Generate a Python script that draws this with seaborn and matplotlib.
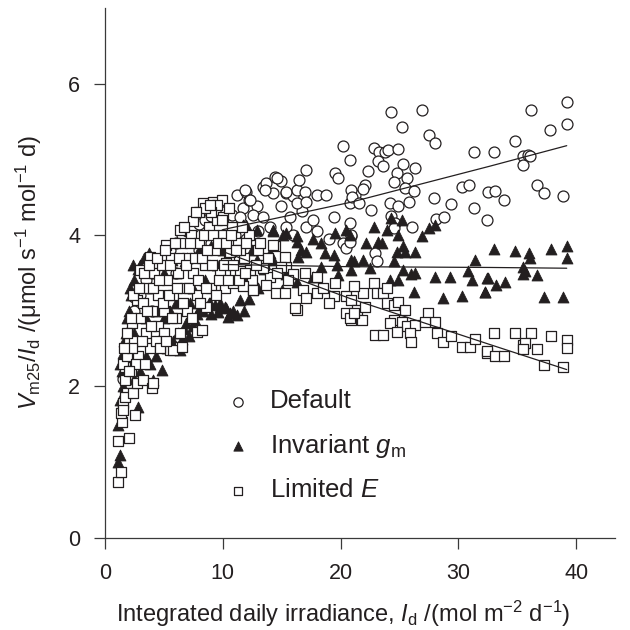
import numpy as np
import pandas as pd
import matplotlib
matplotlib.use("Agg")
import matplotlib.pyplot as plt
import seaborn as sns

# ---------------- data ----------------
default_x = [1.5, 2.0, 2.5, 3.0, 3.5, 4.0, 4.5, 5.0, 5.5, 6.0, 6.5, 7.0, 7.5, 8.0, 8.5, 9.0, 9.5,
             2.5, 4.0, 6.0, 8.0, 9.0, 10.0, 10.5, 10.3, 10.8, 11.2, 11.7, 12.0, 12.2, 12.9, 13.4,
             13.7, 14.3, 14.4, 14.9, 15.4, 16.0, 11.5, 12.6, 13.4, 14.9, 15.7, 16.7, 17.1, 15.4,
             14.6, 13.6, 11.9, 12.3, 15.4, 16.3, 17.0, 18.0, 18.8, 16.3, 17.1, 17.7, 19.4, 20.8,
             21.2, 17.1, 16.5, 19.5, 19.8, 20.2, 20.8, 20.2, 20.5, 20.9,
             11.0, 12.0, 13.0, 14.0, 16.0, 18.0, 19.0,
             24.3, 26.9, 25.2, 27.5, 28.0, 22.8, 23.3, 23.8, 24.0, 23.2, 23.6, 24.9, 25.3, 26.3,
             24.8, 25.6, 22.3, 22.1, 21.9, 24.5, 25.5, 26.2, 20.9, 21.0, 21.6, 22.6, 24.2, 24.9,
             25.8, 27.9, 29.4, 30.3, 30.9, 31.3, 31.3, 24.3, 24.6, 24.5, 26.1, 28.1, 28.8, 20.8,
             20.9, 20.8, 22.9, 23.1,
             36.2, 39.2, 39.2, 37.8, 34.8, 33.0, 35.5, 35.9, 36.1, 35.5, 32.5, 33.1, 33.9, 36.7,
             37.3, 38.9, 32.4]
default_y = [2.1, 2.6, 3.0, 3.2, 3.4, 3.5, 3.6, 3.7, 3.8, 3.9, 4.0, 4.05, 4.1, 4.15, 4.2, 4.25, 4.3,
             3.18, 3.0, 3.5, 3.8, 3.9, 4.0, 4.29, 4.31, 4.27, 4.53, 4.35, 4.57, 4.46, 4.38, 4.64,
             4.68, 4.55, 4.77, 4.71, 4.55, 4.51, 4.24, 4.27, 4.24, 4.38, 4.24, 4.31, 4.11, 4.11,
             4.75, 4.60, 4.60, 4.46, 4.57, 4.60, 4.57, 4.53, 4.53, 4.42, 4.44, 4.20, 4.24, 4.42,
             4.53, 4.86, 4.73, 4.82, 4.75, 5.17, 4.99, 3.89, 3.83, 3.98,
             4.0, 3.95, 4.05, 4.1, 4.0, 4.05, 3.95,
             5.63, 5.65, 5.43, 5.32, 5.22, 5.15, 5.09, 5.10, 5.12, 4.98, 4.91, 5.13, 4.94, 4.88,
             4.82, 4.75, 4.84, 4.66, 4.61, 4.70, 4.62, 4.58, 4.60, 4.50, 4.42, 4.33, 4.42, 4.38,
             4.43, 4.49, 4.41, 4.64, 4.66, 5.10, 4.35, 4.25, 4.16, 4.09, 4.10, 4.21, 4.24, 4.16,
             4.00, 3.91, 3.76, 3.65,
             5.65, 5.76, 5.47, 5.39, 5.24, 5.10, 5.05, 5.06, 5.05, 4.93, 4.57, 4.58, 4.46, 4.66,
             4.56, 4.52, 4.20]

invariant_x = [1.13, 1.27, 1.13, 1.27, 2.83, 1.3, 1.55, 1.84, 1.5, 1.8, 2.0, 2.2, 2.5, 2.8, 3.0, 3.3,
               3.7, 4.1, 4.8, 3.5, 3.0, 2.5, 4.5, 5.0, 5.5, 6.0, 5.7, 6.8, 6.4, 6.5, 6.9, 7.6, 7.5,
               7.1, 7.2, 8.1, 8.9, 9.8, 10.6, 11.2, 8.8, 9.3, 10.2, 10.9, 9.8, 10.3, 11.5, 4.0, 5.0,
               6.0, 7.0, 8.0, 9.0, 10.0, 8.5, 9.5, 7.5, 4.5, 3.5, 2.5,
               3.2, 3.8, 4.3, 5.3, 5.8, 6.2, 6.7, 7.3, 7.8, 8.3, 9.0, 9.6, 10.4, 11.8, 12.2,
               1.6, 1.9, 2.1, 2.4, 1.4,
               11.7, 12.9, 14.3, 15.4, 16.3, 12.0, 14.3, 15.1, 16.3, 17.7, 18.3, 19.5, 20.5, 20.8,
               16.6, 16.4, 17.1, 18.7, 19.4, 20.9, 18.3, 19.7, 20.9, 19.8, 14.0, 14.3, 12.9, 16.3,
               17.7, 15.4, 15.0, 11.0, 12.0, 13.0, 12.5, 11.5, 13.5,
               22.8, 23.9, 24.3, 25.2, 22.2, 23.2, 23.5, 24.9, 24.8, 25.3, 25.5, 26.3, 26.9, 27.5,
               28.0, 21.1, 21.9, 22.5, 24.5, 25.3, 26.0, 26.3, 24.2, 24.9, 28.0, 29.3, 31.4, 30.8,
               31.2, 32.4, 26.2, 28.7, 30.3, 32.3,
               33.0, 34.8, 36.0, 36.1, 37.9, 39.2, 39.2, 35.5, 35.7, 35.5, 36.7, 32.5, 33.2, 34.0,
               32.3, 37.3, 38.9]
invariant_y = [1.00, 1.09, 1.49, 1.82, 1.73, 2.30, 2.44, 2.48, 2.0, 2.7, 3.0, 3.2, 3.4, 3.55, 3.6, 3.7,
               3.76, 2.08, 2.22, 2.4, 2.2, 2.1, 2.6, 2.9, 3.0, 3.1, 3.67, 3.65, 2.48, 2.63, 2.83, 2.88,
               2.79, 2.66, 3.10, 3.05, 3.10, 3.05, 2.97, 2.94, 3.10, 3.08, 3.05, 2.99, 3.10, 3.03,
               3.14, 3.3, 3.5, 3.5, 3.7, 3.8, 3.85, 3.8, 3.4, 3.6, 3.3, 3.0, 2.9, 2.7,
               2.1, 2.3, 2.4, 2.5, 2.6, 2.7, 2.75, 2.9, 2.95, 3.0, 2.95, 2.98, 2.92, 3.0, 3.15,
               2.6, 2.9, 3.3, 3.6, 2.2,
               4.13, 4.07, 4.05, 4.02, 3.98, 4.13, 4.07, 4.00, 3.91, 3.94, 3.89, 4.02, 4.07, 4.00,
               3.80, 3.71, 3.78, 3.76, 3.74, 3.67, 3.58, 3.60, 3.54, 3.47, 3.76, 3.67, 3.67, 3.38,
               3.45, 3.49, 3.27, 3.5, 3.4, 3.3, 3.8, 3.9, 3.55,
               4.11, 4.07, 4.22, 4.20, 3.89, 3.91, 3.89, 4.00, 3.78, 3.85, 3.78, 3.78, 3.98, 4.09,
               4.13, 3.65, 3.67, 3.56, 3.65, 3.54, 3.49, 3.50, 3.41, 3.41, 3.45, 3.45, 3.67, 3.52,
               3.41, 3.43, 3.25, 3.16, 3.19, 3.25,
               3.81, 3.79, 3.76, 3.69, 3.81, 3.85, 3.69, 3.58, 3.52, 3.49, 3.47, 3.43, 3.34, 3.38,
               3.25, 3.18, 3.18]

limited_x = [1.07, 1.36, 1.13, 2.04, 1.41, 1.36, 1.55, 2.55, 1.84, 1.55, 1.7, 2.4, 2.7, 3.25, 4.0,
             4.1, 1.7, 1.7, 2.0, 2.3, 2.7, 3.0, 3.8, 5.2, 6.4, 7.5, 8.3, 9.2, 9.9, 7.8, 6.4, 5.5,
             5.8, 6.5, 8.2, 8.6,
             1.5, 1.9, 2.2, 2.5, 2.8, 3.0, 3.2, 3.5, 3.5, 3.8, 4.0, 4.2, 4.5, 4.5, 4.8, 5.0, 5.0,
             5.3, 5.6, 5.8, 6.0, 6.2, 6.5, 6.8, 7.0, 7.0, 7.3, 7.5, 7.8, 8.0, 8.0, 8.5, 8.8, 9.0,
             9.3, 9.5, 9.8, 10.0, 10.0, 10.2, 10.5, 10.8, 11.0, 11.3, 11.8, 12.2, 12.5, 13.0, 13.5,
             14.0, 12.6, 14.4, 15.4, 16.3, 14.3, 15.3, 10.6, 11.5, 10.3, 11.5, 12.3, 13.4, 14.9,
             16.0, 10.9, 11.7, 12.6, 13.7, 14.5, 15.3, 16.8, 18.0, 18.0, 19.5, 19.4, 20.5, 20.5,
             20.9, 16.1, 17.1, 17.0, 18.5, 19.0, 15.5, 9.5, 10.5, 9.0, 8.5,
             2.2, 2.4, 2.6, 2.9, 3.1, 3.3, 3.4, 3.6, 3.7, 3.9, 4.1, 4.3, 4.4, 4.6, 4.7, 4.9, 5.1,
             5.2, 5.4, 5.5, 5.7, 5.9, 6.1, 6.3, 6.4, 6.6, 6.7, 6.9, 7.1, 7.2, 7.4, 7.6, 7.7, 7.9,
             8.1, 8.2, 8.4, 8.6, 8.7, 8.9, 9.1, 9.2, 9.4, 9.6, 9.7, 9.9, 10.1, 10.3, 10.4, 10.7,
             10.9, 11.1, 11.4, 11.6, 11.9, 12.0, 12.8, 13.2, 13.8, 14.6, 2.0, 2.3, 1.9, 1.6,
             22.8, 21.9, 23.1, 23.6, 23.9, 21.1, 20.9, 21.4, 22.1, 21.8, 20.8, 21.1, 23.9, 24.5,
             24.9, 25.5, 24.5, 24.2, 25.2, 25.6, 26.3, 22.9, 23.6, 24.8, 25.9, 26.0, 27.4, 28.0,
             27.2, 28.2, 28.7, 29.4, 30.3, 31.0, 31.4, 32.4,
             33.0, 34.8, 36.2, 37.9, 39.2, 39.2, 35.5, 35.7, 35.5, 36.7, 32.4, 33.1, 33.9, 37.3,
             38.9]
limited_y = [0.74, 0.87, 1.27, 1.31, 1.53, 1.64, 1.78, 1.62, 1.91, 1.69, 1.86, 1.91, 2.04, 2.08, 1.97,
             2.04, 2.08, 2.26, 2.57, 2.83, 3.14, 3.54, 3.71, 3.87, 4.07, 4.18, 4.42, 4.44, 4.46,
             2.72, 2.52, 2.48, 2.48, 2.52, 2.74, 3.05,
             2.3, 2.4, 2.2, 2.6, 2.4, 2.9, 3.1, 2.7, 3.3, 2.5, 3.0, 3.5, 2.8, 3.2, 3.6, 3.0, 2.7,
             3.4, 3.7, 3.2, 2.9, 3.5, 3.9, 3.3, 3.0, 3.7, 4.0, 3.5, 3.2, 3.9, 4.3, 3.6, 4.1, 3.3,
             3.8, 4.2, 3.5, 4.0, 4.24, 3.3, 3.7, 4.1, 3.5, 3.9, 3.7, 4.0, 3.4, 3.8, 3.6,
             3.45, 3.27, 3.85, 3.58, 3.01, 3.87, 3.71, 3.78, 3.80, 3.63, 3.52, 3.54, 3.56, 3.58,
             3.49, 3.36, 3.32, 3.27, 3.34, 3.23, 3.23, 3.27, 3.45, 3.23, 3.36, 3.19, 3.19, 2.97,
             2.88, 3.03, 3.16, 3.5, 3.3, 3.1, 3.4, 4.4, 4.35, 4.3, 4.35,
             2.9, 3.2, 2.3, 3.3, 2.6, 3.5, 2.3, 3.0, 3.6, 2.8, 3.3, 2.6, 3.7, 3.4, 2.5, 3.1, 3.8,
             2.6, 3.2, 3.6, 2.9, 3.9, 3.3, 3.7, 2.7, 3.1, 4.1, 3.6, 3.3, 3.9, 2.9, 3.7, 4.3, 3.4,
             3.1, 3.7, 4.0, 3.3, 3.8, 4.4, 3.6, 4.0, 3.2, 3.9, 3.4, 4.2, 3.6, 3.9, 3.4, 4.0,
             3.6, 3.8, 3.4, 4.1, 3.5, 3.9, 3.6, 3.9, 3.7, 3.5, 2.2, 2.5, 2.7, 2.5,
             3.36, 3.23, 3.23, 3.23, 3.30, 3.32, 3.14, 3.01, 3.05, 2.88, 2.90, 2.97, 3.10, 3.08,
             3.12, 3.01, 2.88, 2.83, 2.85, 2.79, 2.81, 2.68, 2.68, 2.72, 2.70, 2.58, 2.97, 2.85,
             2.85, 2.70, 2.59, 2.66, 2.52, 2.52, 2.63, 2.44,
             2.71, 2.70, 2.70, 2.67, 2.61, 2.50, 2.55, 2.57, 2.49, 2.49, 2.46, 2.40, 2.40, 2.28,
             2.26]

# fitted lines
fit_x = [10.0, 20.8, 32.7, 39.2]
fit_default = [4.07, 4.43, 4.91, 5.18]
fit_invariant = [3.61, 3.58, 3.57, 3.56]
fit_limited = [3.78, 3.16, 2.55, 2.22]

series_names = ["Default", r"Invariant $g_{\rm m}$", r"Limited $E$"]

# ---------------- style ----------------
sns.set_theme(style="ticks")
plt.rcParams["font.family"] = ["Liberation Sans", "DejaVu Sans"]
plt.rcParams["mathtext.fontset"] = "custom"
plt.rcParams["mathtext.rm"] = "Liberation Sans"
plt.rcParams["mathtext.it"] = "Liberation Sans:italic"
plt.rcParams["mathtext.bf"] = "Liberation Sans:bold"

ink = "#231f20"
spine_c = "#3a3a3a"

fig = plt.figure(figsize=(6.3, 6.3), dpi=100)
ax = fig.add_axes([0.1667, 0.1468, 0.8095, 0.8405])

df_def = pd.DataFrame({"x": default_x, "y": default_y})
df_inv = pd.DataFrame({"x": invariant_x, "y": invariant_y})
df_lim = pd.DataFrame({"x": limited_x, "y": limited_y})

sns.scatterplot(data=df_def, x="x", y="y", marker="o", s=62, facecolor="white",
                edgecolor=ink, linewidth=0.9, label=series_names[0], ax=ax, zorder=3)
sns.scatterplot(data=df_inv, x="x", y="y", marker="^", s=62, facecolor=ink,
                edgecolor=ink, linewidth=0.6, label=series_names[1], ax=ax, zorder=4)
sns.scatterplot(data=df_lim, x="x", y="y", marker="s", s=52, facecolor="white",
                edgecolor=ink, linewidth=0.9, label=series_names[2], ax=ax, zorder=5)

for fy in (fit_default, fit_invariant, fit_limited):
    sns.lineplot(x=fit_x, y=fy, color=ink, linewidth=0.9, ax=ax, zorder=6)

ax.set_xlim(0, 43.3)
ax.set_ylim(0, 7.0)
ax.set_xticks([0, 10, 20, 30, 40])
ax.set_yticks([0, 2, 4, 6])
for sp in ("top", "right"):
    ax.spines[sp].set_visible(False)
for sp in ("left", "bottom"):
    ax.spines[sp].set_color(spine_c)
    ax.spines[sp].set_linewidth(0.9)
ax.tick_params(axis="both", direction="out", length=8, width=0.9, color=spine_c,
               labelsize=15.5, labelcolor=ink, pad=10)

ax.set_xlabel(r"Integrated daily irradiance, $I_{\rm d}$ /(mol m$^{-2}$ d$^{-1}$)",
              fontsize=17, color=ink, labelpad=11)
ax.xaxis.label.set_x(0.467)
ax.set_ylabel(r"$V_{\rm m25}/I_{\rm d}$ /(μmol s$^{-1}$ mol$^{-1}$ d)",
              fontsize=17, color=ink, labelpad=17)

leg = ax.legend(loc="center left", bbox_to_anchor=(0.19, 0.173), frameon=False,
                fontsize=18.5, handlelength=1.0, handletextpad=0.75, labelspacing=0.72,
                markerscale=0.85)
for t in leg.get_texts():
    t.set_color(ink)

fig.savefig("out.png", dpi=100)
